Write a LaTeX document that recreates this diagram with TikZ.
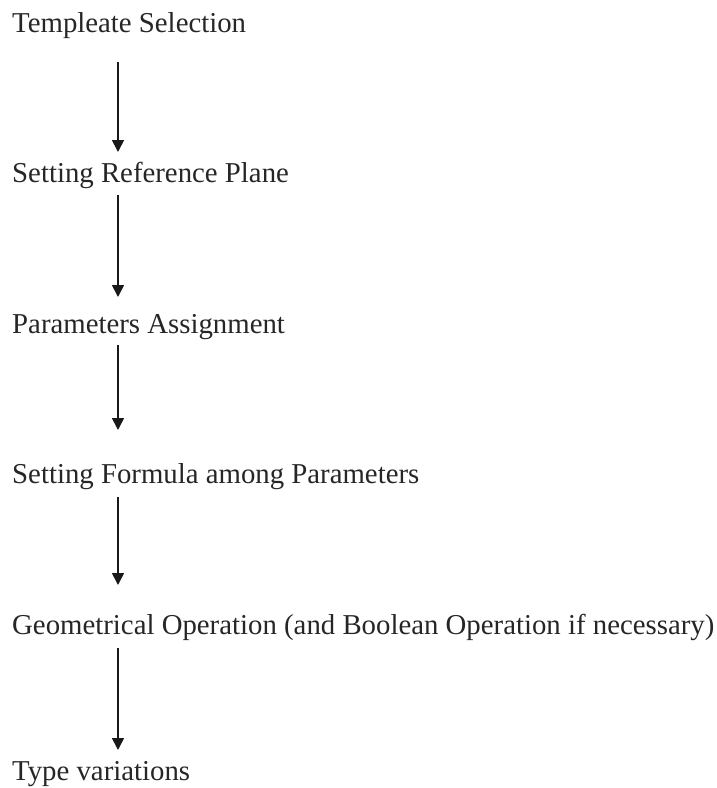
\documentclass[tikz,border=0pt]{standalone}
\usepackage{fontspec}
\setmainfont{Liberation Serif}
\usetikzlibrary{arrows.meta}
\begin{document}
\begin{tikzpicture}[x=1pt,y=-1pt,
  lbl/.style={anchor=base west,inner sep=0pt,font=\fontsize{28.8}{32}\selectfont,text=black!85},
  arr/.style={line width=1.7pt,-{Triangle[length=12pt,width=12pt]},black!90}]
\useasboundingbox (0,0) rectangle (716,788);
\node[lbl] (t1) at (12,32) {Templeate Selection};
\node[lbl] (t2) at (12,182) {Setting Reference Plane};
\node[lbl] (t3) at (12,333) {Parameters Assignment};
\node[lbl] (t4) at (12,483) {Setting Formula among Parameters};
\node[lbl] (t5) at (12,634) {Geometrical Operation (and Boolean Operation if necessary)};
\node[lbl] (t6) at (12,780) {Type variations};
\coordinate (a1) at (118,62);  \coordinate (b1) at (118,152);
\coordinate (a2) at (118,195); \coordinate (b2) at (118,297);
\coordinate (a3) at (118,345); \coordinate (b3) at (118,430);
\coordinate (a4) at (118,497); \coordinate (b4) at (118,585);
\coordinate (a5) at (118,648); \coordinate (b5) at (118,750);
\draw[arr] (a1) -- (b1);
\draw[arr] (a2) -- (b2);
\draw[arr] (a3) -- (b3);
\draw[arr] (a4) -- (b4);
\draw[arr] (a5) -- (b5);
\end{tikzpicture}
\end{document}
